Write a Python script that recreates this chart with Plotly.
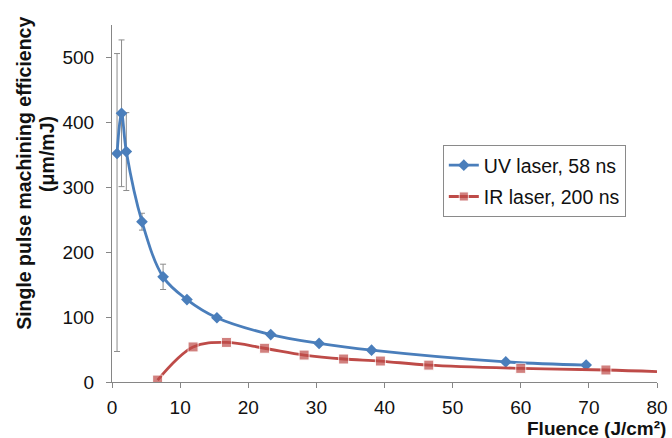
import plotly.graph_objects as go

# UV laser, 58 ns
uv_x = [0.74, 1.4, 2.1, 4.4, 7.5, 11.0, 15.4, 23.3, 30.4, 38.1, 57.8, 69.6]
uv_y = [352, 414, 355, 247, 162, 127, 99, 73, 59.5, 49, 31, 26]
uv_err_plus = [154, 113, 60, 13, 19.5, 0, 0, 0, 0, 0, 0, 0]
uv_err_minus = [305, 113, 60, 13, 19.5, 0, 0, 0, 0, 0, 0, 0]

# IR laser, 200 ns
ir_x = [6.7, 11.9, 16.8, 22.4, 28.2, 34.0, 39.4, 46.5, 60.0, 72.5, 80.0]
ir_y = [3, 54, 61, 52, 41.5, 35.4, 32.3, 26, 21, 18.5, 16]
ir_marker = [True, True, True, True, True, True, True, True, True, True, False]

x_ticks = [0, 10, 20, 30, 40, 50, 60, 70, 80]
y_ticks = [0, 100, 200, 300, 400, 500]

BLUE = "#4A7EBB"
RED = "#BE4B48"
FONT = "Liberation Sans, Arial"

fig = go.Figure()
fig.add_trace(go.Scatter(
    x=uv_x, y=uv_y, mode="lines+markers", name="UV laser, 58 ns",
    legendgroup="uv",
    line=dict(color=BLUE, width=2.8, shape="spline", smoothing=1.0),
    marker=dict(symbol="diamond", size=9, color=BLUE),
    error_y=dict(type="data", symmetric=False, array=uv_err_plus,
                 arrayminus=uv_err_minus, color="#8c8c8c", thickness=1, width=3),
))
fig.add_trace(go.Scatter(
    x=ir_x, y=ir_y, mode="lines+markers", name="IR laser, 200 ns",
    legendgroup="ir",
    line=dict(color=RED, width=2.8, shape="spline", smoothing=1.0),
    marker=dict(symbol="square", size=[10 if m else 0 for m in ir_marker], color=RED),
))

axis_common = dict(showgrid=False, zeroline=False, showline=True, linecolor="#868686",
                   linewidth=1, ticks="outside", ticklen=5, tickcolor="#868686",
                   automargin=False,
                   tickfont=dict(family=FONT, size=19, color="#111"))

fig.update_xaxes(range=[0, 80], tickvals=x_ticks, ticklabelstandoff=3, **axis_common)
fig.update_yaxes(range=[0, 550], tickvals=y_ticks, ticklabelstandoff=8, **axis_common)

fig.update_layout(
    width=672, height=438, autosize=False,
    margin=dict(l=112, r=15, t=25, b=56),
    plot_bgcolor="white", paper_bgcolor="white",
    font=dict(family=FONT, size=19, color="#111"),
    legend=dict(x=0.607, y=0.664, xanchor="left", yanchor="top",
                bordercolor="#8a8a8a", borderwidth=1, bgcolor="white",
                font=dict(family=FONT, size=19.5, color="#111"), tracegroupgap=3,
                traceorder="grouped", itemwidth=30),
    annotations=[
        dict(text="<b>Fluence (J/cm²)</b>", xref="paper", yref="paper",
             x=1, y=0, xanchor="right", yanchor="middle", xshift=11, yshift=-46,
             showarrow=False, font=dict(family=FONT, size=19, color="#111")),
        dict(text="<b>Single pulse machining efficiency</b>",
             xref="paper", yref="paper", x=0, y=0.583, xanchor="center",
             yanchor="middle", xshift=-88, textangle=-90, showarrow=False,
             font=dict(family=FONT, size=19.5, color="#111")),
        dict(text="<b>(μm/mJ)</b>",
             xref="paper", yref="paper", x=0, y=0.639, xanchor="center",
             yanchor="middle", xshift=-65, textangle=-90, showarrow=False,
             font=dict(family=FONT, size=19.5, color="#111")),
    ],
)

fig.write_html("out.html", config={"responsive": False, "displayModeBar": False},
               post_script="document.body.style.margin='0px';")
